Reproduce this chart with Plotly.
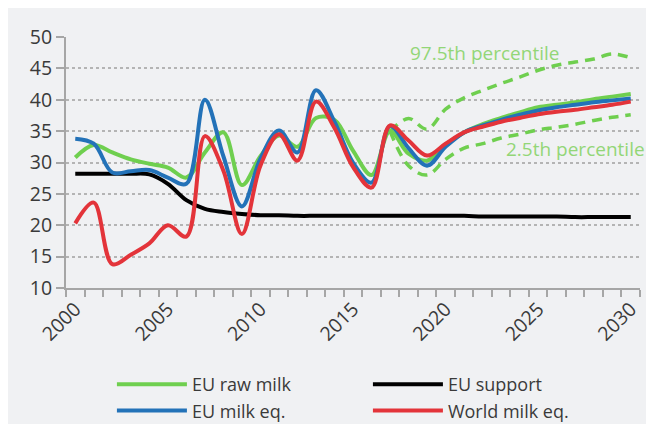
import plotly.graph_objects as go

years = list(range(2000, 2031))
eu_raw_milk = [30.8, 32.8, 31.6, 30.5, 29.8, 29.2, 27.6, 31.6, 34.8, 26.4, 31.0, 34.3, 32.5, 37.1, 36.8,
               31.9, 28.0, 35.0, 31.4, 30.3, 32.8, 34.8, 36.1, 37.1, 38.0, 38.8, 39.2, 39.6, 40.1, 40.5, 40.9]
eu_milk_eq = [33.8, 33.0, 28.4, 28.6, 28.8, 27.6, 26.6, 40.0, 31.0, 23.0, 30.6, 35.1, 31.6, 41.5, 36.5,
              30.0, 26.8, 35.8, 32.3, 29.5, 32.5, 34.8, 35.9, 36.8, 37.6, 38.3, 38.8, 39.2, 39.6, 39.9, 40.2]
world_milk_eq = [20.3, 23.6, 13.8, 15.3, 17.1, 20.0, 18.2, 34.2, 28.7, 18.6, 29.5, 34.5, 30.3, 39.7, 35.5,
                 29.3, 26.0, 35.9, 33.5, 31.1, 33.0, 34.8, 35.7, 36.5, 37.1, 37.7, 38.1, 38.4, 38.8, 39.2, 39.7]
eu_support = [28.2, 28.2, 28.2, 28.2, 28.1, 26.6, 24.0, 22.6, 22.1, 21.8, 21.6, 21.6, 21.5, 21.5, 21.5,
              21.5, 21.5, 21.5, 21.5, 21.5, 21.5, 21.5, 21.4, 21.4, 21.4, 21.4, 21.4, 21.3, 21.3, 21.3, 21.3]

pct_years = list(range(2017, 2031))
p97_5 = [35.0, 37.0, 35.3, 38.5, 40.3, 41.5, 42.6, 43.6, 44.7, 45.5, 46.0, 46.5, 47.3, 46.7]
p2_5 = [35.0, 29.5, 28.0, 30.5, 32.3, 33.0, 33.9, 34.5, 35.2, 35.6, 36.1, 36.7, 37.2, 37.6]

tick_years = [2000, 2005, 2010, 2015, 2020, 2025, 2030]
y_ticks = [10, 15, 20, 25, 30, 35, 40, 45, 50]

GREEN = "#6fcf4f"
BLUE = "#2372b8"
RED = "#e3343a"
BLACK = "#000000"
LABEL_GREEN = "#93d677"
GREY = "#a6a6a6"
BG = "#f0f1f3"
TXT = "#3a3a3a"
FONT = "Open Sans"

fig = go.Figure()

fig.add_trace(go.Scatter(x=pct_years, y=p97_5, mode="lines", showlegend=False,
                         line=dict(color=GREEN, width=3.5, dash="10px,7px", shape="spline", smoothing=1)))
fig.add_trace(go.Scatter(x=pct_years, y=p2_5, mode="lines", showlegend=False,
                         line=dict(color=GREEN, width=3.5, dash="10px,7px", shape="spline", smoothing=1)))
fig.add_trace(go.Scatter(x=years, y=eu_support, mode="lines", name="EU support", legendrank=2,
                         line=dict(color=BLACK, width=4, shape="spline", smoothing=1)))
fig.add_trace(go.Scatter(x=years, y=eu_raw_milk, mode="lines", name="EU raw milk", legendrank=1,
                         line=dict(color=GREEN, width=4, shape="spline", smoothing=1)))
fig.add_trace(go.Scatter(x=years, y=eu_milk_eq, mode="lines", name="EU milk eq.", legendrank=3,
                         line=dict(color=BLUE, width=4, shape="spline", smoothing=1)))
fig.add_trace(go.Scatter(x=years, y=world_milk_eq, mode="lines", name="World milk eq.", legendrank=4,
                         line=dict(color=RED, width=4, shape="spline", smoothing=1)))

fig.add_annotation(x=2022.1, y=47.4, xref="x", yref="y", text="97.5th percentile", showarrow=False,
                   font=dict(family=FONT, size=19, color=LABEL_GREEN))
fig.add_annotation(x=1.013, y=32.2, xref="paper", yref="y", xanchor="right", text="2.5th percentile",
                   showarrow=False, font=dict(family=FONT, size=19, color=LABEL_GREEN))

# The page body adds an 8px white margin, which forms the white border at top/left.
fig.update_layout(
    width=646, height=416,
    margin=dict(l=58, r=12, t=29, b=136),
    paper_bgcolor=BG,
    plot_bgcolor=BG,
    font=dict(family=FONT, color=TXT, size=18),
    legend=dict(orientation="h", x=0.08, xref="paper", y=(416 - 358) / 416, yref="container",
                xanchor="left", yanchor="top",
                entrywidth=171, entrywidthmode="pixels", bgcolor="rgba(0,0,0,0)",
                font=dict(family=FONT, size=18, color=TXT), itemwidth=70),
    xaxis=dict(range=[1999.5, 2030.5], tickmode="array", tickvals=tick_years,
               ticktext=[str(y) for y in tick_years], tickangle=-45, ticks="", showgrid=False,
               showline=True, linecolor=GREY, linewidth=2, zeroline=False,
               tickfont=dict(family=FONT, size=19.5, color=TXT),
               minor=dict(tickmode="linear", tick0=1999.5, dtick=1, ticks="outside", ticklen=7,
                          tickcolor=GREY, tickwidth=2, showgrid=False)),
    yaxis=dict(range=[10, 50], tickmode="array", tickvals=y_ticks, ticks="outside", ticklen=8,
               tickcolor=GREY, tickwidth=2, showline=True, linecolor=GREY, linewidth=2,
               showgrid=True, gridcolor="#b4b4b4", gridwidth=2, griddash="dot", zeroline=False,
               tickfont=dict(family=FONT, size=19.5, color=TXT)),
)

fig.write_html("out.html")
